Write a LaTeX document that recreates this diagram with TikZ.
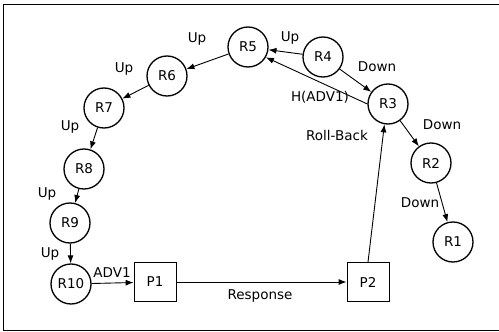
\documentclass[tikz,border=0pt]{standalone}
\usepackage{fontspec}
\setmainfont{DejaVu Sans}
\usetikzlibrary{arrows.meta}
\begin{document}
\begin{tikzpicture}[x=1pt,y=-1pt,
  every node/.style={font=\fontsize{13.5}{15}\selectfont},
  st/.style={circle,draw,line width=1.3pt,minimum size=40pt,inner sep=0pt},
  pr/.style={rectangle,draw,line width=0.8pt,minimum width=42pt,minimum height=39pt,inner sep=0pt},
  arr/.style={-{Latex[length=8pt,width=6pt]},line width=0.9pt},
  lbl/.style={inner sep=0pt}]
\useasboundingbox (0,0) rectangle (499,332);
\draw[line width=0.8pt] (499,4) -- (3,4) -- (3,330) -- (499,330);
\node[st] (R5) at (248,47) {R5};
\node[st] (R4) at (323,57) {R4};
\node[st] (R3) at (388,104) {R3};
\node[st] (R2) at (431,163) {R2};
\node[st] (R1) at (453,242) {R1};
\node[st] (R6) at (167,76) {R6};
\node[st] (R7) at (104,108) {R7};
\node[st] (R8) at (84,169) {R8};
\node[st] (R9) at (70,223) {R9};
\node[st] (R10) at (71,284) {R10};
\node[pr] (P1) at (155,282) {P1};
\node[pr] (P2) at (368,282) {P2};
\draw[arr] (R5) -- (R6);
\draw[arr] (R6) -- (R7);
\draw[arr] (R7) -- (R8);
\draw[arr] (R8) -- (R9);
\draw[arr] (R9) -- (R10);
\draw[arr] (R4) -- (R5);
\draw[arr] (R4) -- (R3);
\draw[arr] (R3) -- (R2);
\draw[arr] (R2) -- (R1);
\draw[arr] (R3.west) -- (R5.-30);
\draw[arr] (R10) -- (P1);
\draw[arr] (P1) -- (P2);
\draw[arr] (P2.north) -- (R3.-100);
\node[lbl] (l1) at (197,39) {Up};
\node[lbl] (l2) at (124,69) {Up};
\node[lbl] (l3) at (70,127) {Up};
\node[lbl] (l4) at (47,194) {Up};
\node[lbl] (l5) at (50,254) {Up};
\node[lbl] (l6) at (112,273) {ADV1};
\node[lbl] (l7) at (260,296) {Response};
\node[lbl] (l8) at (290,38) {Up};
\node[lbl] (l9) at (377,67) {Down};
\node[lbl] (l10) at (320,97) {H(ADV1)};
\node[lbl] (l11) at (442,125) {Down};
\node[lbl] (l12) at (337,135) {Roll-Back};
\node[lbl] (l13) at (420,203) {Down};
\end{tikzpicture}
\end{document}
